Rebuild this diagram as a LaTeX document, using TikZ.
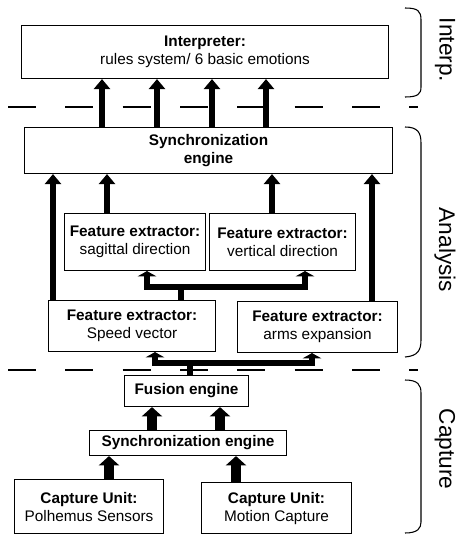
\documentclass[tikz,border=0pt]{standalone}
\usepackage{fontspec}
\setmainfont{Liberation Sans}
\usetikzlibrary{arrows.meta, calc, positioning}

\begin{document}
\begin{tikzpicture}[x=0.75pt, y=-0.75pt,
    box/.style={draw, line width=0.8pt, inner sep=0pt, align=center, anchor=north west,
        font=\fontsize{11.5}{13.5}\selectfont},
    flow/.style={line width=5pt, -{Triangle[width=12pt,length=7.5pt]}},
    fatflow/.style={line width=8pt, -{Triangle[width=15pt,length=7pt]}},
    tee/.style={line width=5pt, {Triangle[width=14pt,length=4pt]}-{Triangle[width=14pt,length=4pt]}},
    stem/.style={line width=5pt},
    layer/.style={line width=0.8pt, dash pattern=on 21pt off 22pt},
    brace/.style={line width=0.8pt},
    tier/.style={rotate=-90, font=\fontsize{17}{20}\selectfont}]

    \useasboundingbox (0,0) rectangle (459,535);

    % Layer separators
    \draw[layer] (8,107) -- (418,107);
    \draw[layer] (8,370) -- (418,370);

    % Interpretation
    \node[box, minimum width=275.25pt, minimum height=39.75pt] (interp) at (21,25)
        {\textbf{Interpreter:}\\rules system/ 6 basic emotions};

    % Analysis
    \node[box, minimum width=276pt, minimum height=34.5pt] (sync) at (24,127)
        {\textbf{Synchronization}\\\textbf{engine}};
    \node[box, minimum width=105.75pt, minimum height=42.75pt] (sag) at (64,213)
        {\textbf{Feature extractor:}\\sagittal direction};
    \node[box, minimum width=109.5pt, minimum height=42.75pt] (vert) at (209,213)
        {\textbf{Feature extractor:}\\vertical direction};
    \node[box, minimum width=125.25pt, minimum height=38.25pt] (speed) at (48,300)
        {\textbf{Feature extractor:}\\Speed vector};
    \node[box, minimum width=120pt, minimum height=38.25pt] (arms) at (237,301)
        {\textbf{Feature extractor:}\\arms expansion};

    % Capture
    \node[box, minimum width=93pt, minimum height=23.25pt] (fusion) at (124,375)
        {\textbf{Fusion engine}};
    \node[box, minimum width=147.75pt, minimum height=18.75pt] (sync2) at (89,430)
        {\textbf{Synchronization engine}};
    \node[box, minimum width=111.75pt, minimum height=40.5pt] (polhemus) at (14,479)
        {\textbf{Capture Unit:}\\Polhemus Sensors};
    \node[box, minimum width=112.5pt, minimum height=38.25pt] (motion) at (201,482)
        {\textbf{Capture Unit:}\\Motion Capture};

    % Lanes of the connectors
    \foreach \x [count=\i] in {102,157,212,266} \coordinate (up\i) at (\x,0);
    \foreach \x [count=\i] in {53,107,272,372} \coordinate (in\i) at (\x,0);
    \coordinate (fork1) at (181,287);
    \coordinate (tl1) at (147,0);
    \coordinate (tr1) at (305,0);
    \coordinate (fork2) at (190,363);
    \coordinate (tl2) at (155,0);
    \coordinate (tr2) at (312,0);
    \coordinate (f1) at (152,0);
    \coordinate (f2) at (220,0);
    \coordinate (c1) at (109,0);
    \coordinate (c2) at (236,0);

    % Synchronization -> interpreter
    \foreach \i in {1,...,4}
        \draw[flow] (sync.north -| up\i) -- (interp.south -| up\i);

    % Extractors -> synchronization
    \draw[flow] (speed.north -| in1) -- (sync.south -| in1);
    \draw[flow] (sag.north -| in2) -- (sync.south -| in2);
    \draw[flow] (vert.north -| in3) -- (sync.south -| in3);
    \draw[flow] (arms.north -| in4) -- (sync.south -| in4);

    % Speed vector -> direction extractors
    \draw[stem] (speed.north -| fork1) -- (fork1);
    \draw[tee] (sag.south -| tl1) |- (fork1) -| (vert.south -| tr1);

    % Fusion -> first extractors
    \draw[stem] (fusion.north -| fork2) -- (fork2);
    \draw[tee] (speed.south -| tl2) |- (fork2) -| (arms.south -| tr2);

    % Capture chain
    \draw[fatflow] (sync2.north -| f1) -- (fusion.south -| f1);
    \draw[fatflow] (sync2.north -| f2) -- (fusion.south -| f2);
    \draw[fatflow] (polhemus.north -| c1) -- (sync2.south -| c1);
    \draw[fatflow] (motion.north -| c2) -- (sync2.south -| c2);

    % Braces and layer names
    \draw[brace] (405,8) .. controls (418,8) and (421,11) .. (421,20) -- (421,87)
        .. controls (421,94) and (418,97) .. (405,97);
    \draw[brace] (405,127) .. controls (418,127) and (421,133) .. (421,143) -- (421,340)
        .. controls (421,350) and (418,356) .. (405,357);
    \draw[brace] (405,380) .. controls (418,380) and (421,385) .. (421,393) -- (421,522)
        .. controls (421,528) and (418,533) .. (405,533);
    \node[tier] (tinterp) at (445,50) {Interp.};
    \node[tier] (tanalysis) at (445,250) {Analysis};
    \node[tier] (tcapture) at (445,449) {Capture};
\end{tikzpicture}
\end{document}
